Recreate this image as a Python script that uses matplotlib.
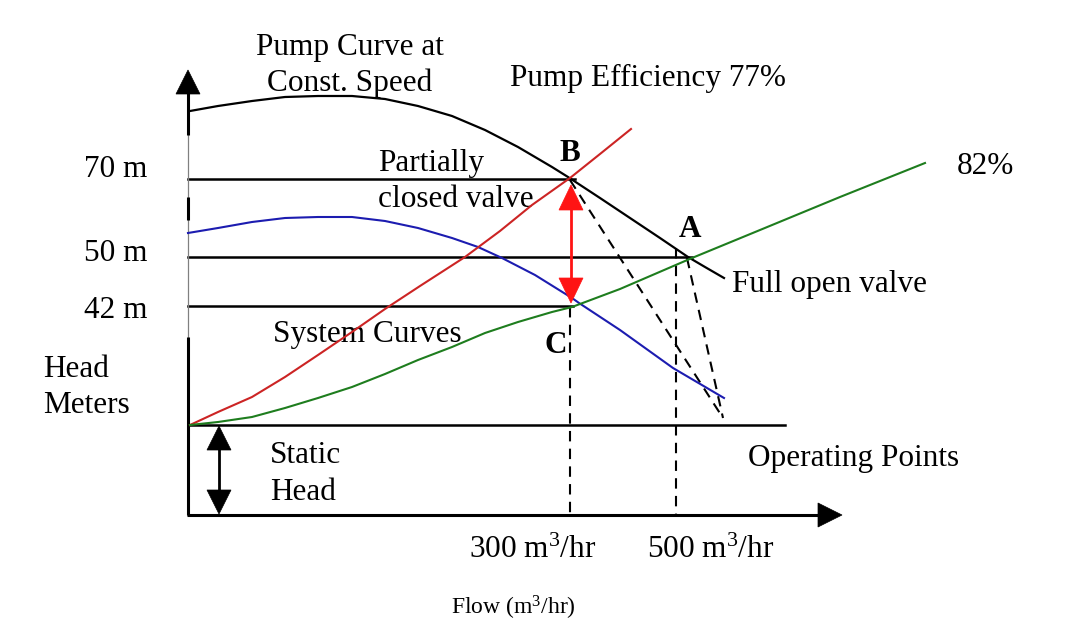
"""Pump curve / system curve schematic: throttled (B, C) vs full open (A) operating points."""

import matplotlib
matplotlib.use("Agg")
import matplotlib.pyplot as plt
import numpy as np
from matplotlib.patches import Polygon, Rectangle

plt.rcParams["font.family"] = ["Liberation Serif", "DejaVu Serif"]
plt.rcParams["mathtext.fontset"] = "custom"
plt.rcParams["mathtext.rm"] = "Liberation Serif"
plt.rcParams["mathtext.it"] = "Liberation Serif:italic"

# ── Diagram data (schematic units: x = flow direction, y = head, screen-like) ──
pump_x = [190, 218, 252, 285, 318, 352, 385, 418, 452, 485, 518, 552, 568, 600, 630, 660, 688, 705, 724]
pump_y = [111, 106, 101, 97, 96, 96, 99, 106, 116, 130, 147, 167, 177, 198, 218, 238, 257, 267, 278]

pump_low_x = [188, 218, 252, 285, 318, 352, 385, 418, 452, 478, 502, 535, 572, 579, 620, 673, 724]
pump_low_y = [233, 228, 222, 218, 217, 217, 221, 228, 238, 247, 258, 275, 298, 303, 330, 368, 398]

sys_throttled_x = [190, 218, 252, 285, 318, 352, 385, 420, 465, 500, 532, 570, 600, 631]
sys_throttled_y = [425, 412, 397, 377, 355, 332, 309, 286, 257, 231, 205, 178, 154, 129]

sys_open_x = [190, 218, 252, 285, 318, 352, 385, 418, 452, 485, 518, 552, 572, 620, 692, 760, 840, 925]
sys_open_y = [425, 422, 417, 408, 398, 387, 374, 360, 347, 333, 322, 312, 307, 289, 258, 230, 197, 163]

# head levels: label, y, line end
head_labels = ["70 m", "50 m", "42 m"]
head_levels = [179, 257, 306]
head_label_base = [177, 261, 318]
head_ends = [575, 692, 573]

static_head_level = 425
static_head_end = 785

origin = (188, 515)
x_axis_end = 842
y_axis_end = 70

flow_labels = ["300 m$^3$/hr", "500 m$^3$/hr"]
flow_label_x = [469, 647]
flow_marks = [570, 676]
flow_mark_tops = [307, 248]

point_B = (570, 180)
point_A = (687, 258)
converge = (723, 418)

BLACK = "#000000"
RED_LINE = "#cc2424"
RED_ARROW = "#ff1414"
GREEN = "#1e7d1e"
BLUE = "#1c1cb0"
FS = 22.5


def arrow_head(ax, tip, direction, color, length=24, half=12):
    d = np.array(direction, dtype=float)
    d /= np.linalg.norm(d)
    n = np.array([-d[1], d[0]])
    tip = np.array(tip, dtype=float)
    base = tip - d * length
    pts = [tip, base + n * half, base - n * half]
    ax.add_patch(Polygon(pts, closed=True, facecolor=color, edgecolor=color, lw=0.5, zorder=5))


fig = plt.figure(figsize=(10.8, 6.38), dpi=100)
ax = fig.add_axes([0, 0, 1, 1])
ax.set_xlim(0, 1080)
ax.set_ylim(638, 0)
ax.axis("off")

# ── Axes ─────────────────────────────────────────────────────────────
ox, oy = origin
ax.plot([ox, ox], [oy, y_axis_end + 20], color="#808080", lw=0.9, zorder=3)
for top, bot in [(93, 135), (197, 220), (337, oy)]:
    ax.plot([ox, ox], [top, bot], color=BLACK, lw=2.2, solid_capstyle="butt", zorder=3)
arrow_head(ax, (ox, y_axis_end), (0, -1), BLACK)
ax.plot([ox - 1, x_axis_end - 20], [oy, oy], color=BLACK, lw=2.2, solid_capstyle="butt", zorder=3)
arrow_head(ax, (x_axis_end, oy), (1, 0), BLACK)

# ── Reference head lines ─────────────────────────────────────────────
for lbl, lvl, base, end in zip(head_labels, head_levels, head_label_base, head_ends):
    ax.plot([ox, end], [lvl, lvl], color=BLACK, lw=1.8, zorder=2)
    ax.text(147, base, lbl, fontsize=FS, ha="right", va="baseline")
ax.plot([ox, static_head_end], [static_head_level] * 2, color=BLACK, lw=1.8, zorder=2)

# ── Curves ───────────────────────────────────────────────────────────
ax.plot(pump_x, pump_y, color=BLACK, lw=1.6, zorder=4)
ax.plot(pump_low_x, pump_low_y, color=BLUE, lw=1.5, zorder=4)
ax.plot(sys_throttled_x, sys_throttled_y, color=RED_LINE, lw=1.5, zorder=4)
ax.plot(sys_open_x, sys_open_y, color=GREEN, lw=1.5, zorder=4)

# ── Dashed guides ────────────────────────────────────────────────────
dash = dict(color=BLACK, lw=1.5, ls=(0, (5, 3.5)), zorder=3)
for xm, top in zip(flow_marks, flow_mark_tops):
    ax.plot([xm, xm], [top, oy], **dash)
ax.plot([point_B[0], converge[0]], [point_B[1], converge[1]], **dash)
ax.plot([point_A[0], converge[0]], [point_A[1], converge[1]], **dash)

# ── Double arrows ────────────────────────────────────────────────────
ax.plot([571, 571], [205, 283], color=RED_ARROW, lw=2, zorder=5)
arrow_head(ax, (571, 185), (0, -1), RED_ARROW, length=25)
arrow_head(ax, (571, 303), (0, 1), RED_ARROW, length=25)

ax.plot([219, 219], [445, 495], color=BLACK, lw=2, zorder=5)
arrow_head(ax, (219, 426), (0, -1), BLACK)
arrow_head(ax, (219, 514), (0, 1), BLACK)

# ── Text ─────────────────────────────────────────────────────────────
ax.text(350, 55, "Pump Curve at", fontsize=FS, ha="center", va="baseline")
t = ax.text(350, 91, "Const. Speed", fontsize=FS, ha="center", va="baseline")
t.set_clip_path(Rectangle((0, 0), 1080, 92, transform=ax.transData))
ax.text(510, 86, "Pump Efficiency 77%", fontsize=FS, ha="left", va="baseline")
ax.text(378, 171, "Partially", fontsize=FS, ha="left", va="baseline")
ax.text(378, 207, "closed valve", fontsize=FS, ha="left", va="baseline")
ax.text(957, 174, "82%", fontsize=FS, ha="left", va="baseline")
ax.text(732, 292, "Full open valve", fontsize=FS, ha="left", va="baseline")
ax.text(273, 342, "System Curves", fontsize=FS, ha="left", va="baseline")
ax.text(43, 377, "Head", fontsize=FS, ha="left", va="baseline")
ax.text(43, 413, "Meters", fontsize=FS, ha="left", va="baseline")
ax.text(270, 463, "Static", fontsize=FS, ha="left", va="baseline")
ax.text(270, 500, "Head", fontsize=FS, ha="left", va="baseline")
ax.text(748, 466, "Operating Points", fontsize=FS, ha="left", va="baseline")
for lbl, lx in zip(flow_labels, flow_label_x):
    ax.text(lx, 558, lbl, fontsize=FS, ha="left", va="baseline")
ax.text(451, 615, "Flow (m$^3$/hr)", fontsize=17, ha="left", va="baseline")

for lbl, (bx, by) in zip(["B", "A", "C"], [(570, 161), (690, 237), (556, 353)]):
    ax.text(bx, by, lbl, fontsize=FS, fontweight="bold", ha="center", va="baseline")

fig.savefig("out.png", dpi=100, facecolor="white")
plt.close(fig)
